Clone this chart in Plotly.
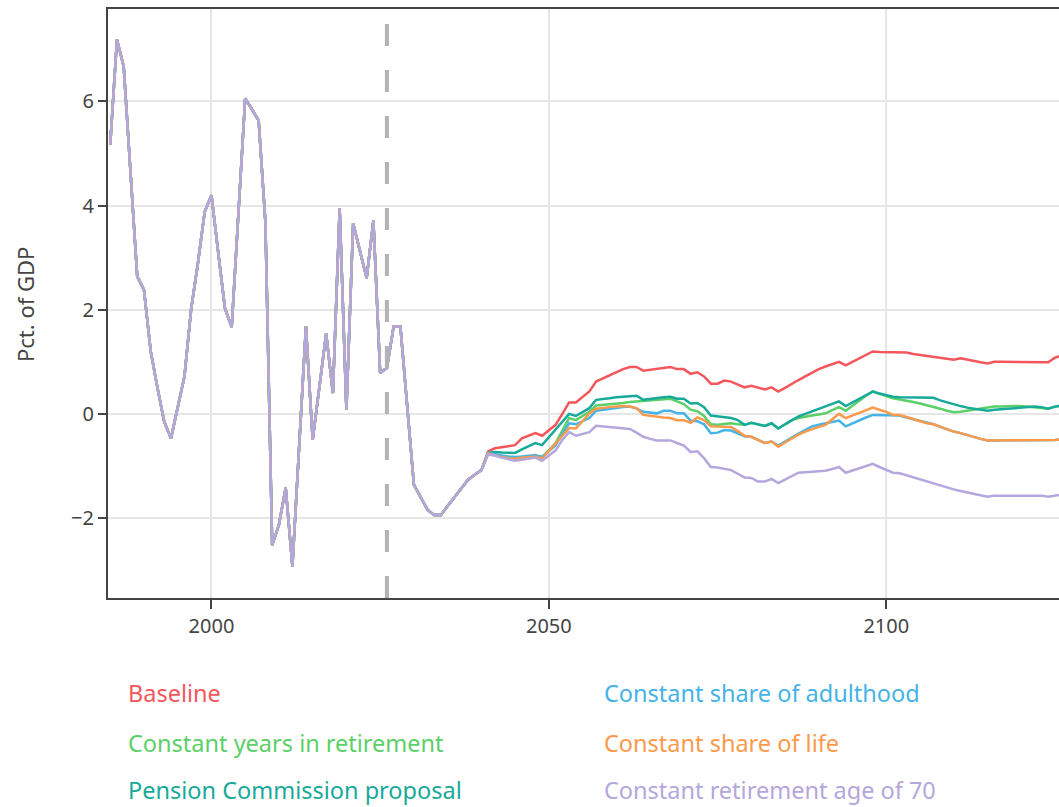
import plotly.graph_objects as go

# ---------------- data ----------------
hist_years_start = 1985
historical = [
    5.17, 7.19, 6.67, 4.65, 2.64, 2.38, 1.20, 0.50, -0.15, -0.47,   # 1985-1994
    0.12, 0.72, 2.02, 2.90, 3.88, 4.20, 3.10, 2.03, 1.66, 3.86,     # 1995-2004
    6.06, 5.85, 5.63, 3.67, -2.52, -2.13, -1.42, -2.93, -0.62, 1.68, # 2005-2014
    -0.50, 0.52, 1.54, 0.40, 3.95, 0.08, 3.66, 3.13, 2.61, 3.71,    # 2015-2024
    0.79, 0.88, 1.68, 1.68, 0.15, -1.36, -1.60, -1.84, -1.94, -1.94, # 2025-2034
    -1.77, -1.60, -1.43, -1.27, -1.17, -1.08,                        # 2035-2040
]

baseline = [
    -0.72, -0.66, -0.64, -0.62, -0.60, -0.47, -0.42, -0.37, -0.42, -0.31,
    -0.21, 0.00, 0.22, 0.22, 0.32, 0.43, 0.62, 0.68, 0.74, 0.80,
    0.86, 0.90, 0.90, 0.83, 0.85, 0.87, 0.89, 0.90, 0.86, 0.86,
    0.77, 0.80, 0.72, 0.58, 0.58, 0.64, 0.62, 0.56, 0.51, 0.54,
    0.50, 0.47, 0.51, 0.43, 0.50, 0.58, 0.65, 0.72, 0.79, 0.86,
    0.91, 0.96, 1.00, 0.93, 1.00, 1.07, 1.13, 1.20, 1.19, 1.19,
    1.18, 1.18, 1.18, 1.15, 1.13, 1.11, 1.09, 1.07, 1.05, 1.04,
    1.07, 1.04, 1.01, 0.99, 0.97, 1.00, 1.00, 1.00, 0.99, 0.99,
    0.99, 0.99, 0.99, 0.99, 1.08, 1.12,
]

const_years_retirement = [
    -0.75, -0.78, -0.81, -0.84, -0.85, -0.84, -0.82, -0.81, -0.82, -0.70,
    -0.56, -0.32, -0.08, -0.12, -0.04, 0.04, 0.16, 0.17, 0.19, 0.20,
    0.21, 0.23, 0.24, 0.26, 0.27, 0.28, 0.29, 0.29, 0.24, 0.19,
    0.08, 0.05, -0.04, -0.20, -0.21, -0.19, -0.18, -0.20, -0.21, -0.17,
    -0.20, -0.23, -0.18, -0.28, -0.20, -0.12, -0.08, -0.05, -0.03, -0.01,
    0.01, 0.07, 0.13, 0.06, 0.16, 0.26, 0.35, 0.43, 0.38, 0.34,
    0.30, 0.28, 0.26, 0.23, 0.20, 0.17, 0.14, 0.10, 0.06, 0.03,
    0.04, 0.06, 0.08, 0.11, 0.13, 0.14, 0.14, 0.15, 0.15, 0.15,
    0.14, 0.13, 0.12, 0.10, 0.14, 0.16,
]

pension_commission = [
    -0.75, -0.73, -0.74, -0.75, -0.75, -0.68, -0.62, -0.56, -0.60, -0.45,
    -0.31, -0.15, 0.00, -0.04, 0.04, 0.11, 0.27, 0.28, 0.30, 0.32,
    0.33, 0.35, 0.35, 0.27, 0.29, 0.31, 0.32, 0.33, 0.29, 0.29,
    0.20, 0.21, 0.13, -0.03, -0.05, -0.06, -0.08, -0.12, -0.21, -0.17,
    -0.20, -0.23, -0.18, -0.28, -0.20, -0.12, -0.05, 0.00, 0.05, 0.10,
    0.15, 0.20, 0.24, 0.15, 0.22, 0.29, 0.36, 0.43, 0.39, 0.36,
    0.33, 0.32, 0.32, 0.32, 0.32, 0.31, 0.31, 0.26, 0.22, 0.18,
    0.15, 0.12, 0.10, 0.08, 0.06, 0.08, 0.09, 0.10, 0.11, 0.12,
    0.13, 0.14, 0.13, 0.10, 0.14, 0.16,
]

const_share_adulthood = [
    -0.75, -0.78, -0.80, -0.82, -0.83, -0.82, -0.80, -0.79, -0.83, -0.72,
    -0.60, -0.39, -0.18, -0.20, -0.14, -0.08, 0.06, 0.08, 0.10, 0.11,
    0.13, 0.14, 0.10, 0.04, 0.02, 0.01, 0.06, 0.06, 0.01, 0.01,
    -0.13, -0.14, -0.20, -0.37, -0.36, -0.31, -0.32, -0.37, -0.43, -0.44,
    -0.50, -0.56, -0.53, -0.61, -0.53, -0.45, -0.38, -0.31, -0.24, -0.21,
    -0.18, -0.15, -0.13, -0.24, -0.18, -0.12, -0.07, -0.02, -0.02, -0.02,
    -0.02, -0.03, -0.07, -0.10, -0.14, -0.17, -0.20, -0.25, -0.30, -0.34,
    -0.37, -0.41, -0.44, -0.48, -0.51, -0.51, -0.51, -0.51, -0.51, -0.51,
    -0.51, -0.51, -0.51, -0.51, -0.50, -0.49,
]

const_share_life = [
    -0.76, -0.80, -0.83, -0.85, -0.86, -0.84, -0.83, -0.82, -0.86, -0.72,
    -0.58, -0.42, -0.27, -0.28, -0.14, 0.01, 0.10, 0.12, 0.13, 0.14,
    0.15, 0.14, 0.11, -0.02, -0.04, -0.06, -0.07, -0.08, -0.12, -0.12,
    -0.17, -0.07, -0.12, -0.24, -0.24, -0.24, -0.25, -0.33, -0.42, -0.44,
    -0.50, -0.56, -0.53, -0.63, -0.55, -0.47, -0.40, -0.34, -0.29, -0.25,
    -0.21, -0.10, 0.00, -0.08, -0.03, 0.03, 0.08, 0.12, 0.08, 0.04,
    -0.02, -0.02, -0.06, -0.10, -0.14, -0.18, -0.20, -0.25, -0.30, -0.34,
    -0.37, -0.41, -0.44, -0.48, -0.51, -0.51, -0.51, -0.51, -0.51, -0.51,
    -0.51, -0.51, -0.51, -0.51, -0.50, -0.49,
]

const_age_70 = [
    -0.78, -0.80, -0.84, -0.87, -0.90, -0.88, -0.86, -0.84, -0.90, -0.80,
    -0.70, -0.50, -0.35, -0.42, -0.39, -0.35, -0.23, -0.24, -0.25, -0.26,
    -0.27, -0.29, -0.36, -0.44, -0.48, -0.51, -0.51, -0.51, -0.56, -0.61,
    -0.73, -0.72, -0.85, -1.02, -1.03, -1.05, -1.08, -1.15, -1.22, -1.23,
    -1.30, -1.30, -1.25, -1.33, -1.26, -1.19, -1.13, -1.12, -1.11, -1.10,
    -1.09, -1.06, -1.02, -1.13, -1.09, -1.04, -1.00, -0.96, -1.02, -1.08,
    -1.13, -1.14, -1.18, -1.22, -1.26, -1.30, -1.34, -1.38, -1.42, -1.45,
    -1.48, -1.51, -1.54, -1.57, -1.59, -1.57, -1.57, -1.57, -1.57, -1.57,
    -1.57, -1.57, -1.57, -1.59, -1.57, -1.55,
]

series_names = [
    "Baseline",
    "Constant years in retirement",
    "Pension Commission proposal",
    "Constant share of adulthood",
    "Constant share of life",
    "Constant retirement age of 70",
]
series_proj = [baseline, const_years_retirement, pension_commission,
               const_share_adulthood, const_share_life, const_age_70]
colors = ["#f4575b", "#5bd068", "#17aa9a", "#45b3e6", "#fb9a4c", "#b4a7dd"]

projection_line_year = 2026
x_ticks = [2000, 2050, 2100]
y_ticks = [-2, 0, 2, 4, 6]

# ---------------- figure ----------------
FONT = "Noto Sans"
fig = go.Figure()

for name, proj, col in zip(series_names, series_proj, colors):
    y = historical + proj
    x = list(range(hist_years_start, hist_years_start + len(y)))
    fig.add_trace(go.Scatter(x=x, y=y, mode="lines", name=name,
                             line=dict(color=col, width=2.5),
                             showlegend=False))

fig.add_shape(type="line", xref="x", yref="paper",
              x0=projection_line_year, x1=projection_line_year, y0=0, y1=1,
              line=dict(color="#b3b3b3", width=4, dash="22px,24px"),
              layer="above")

FIG_W, FIG_H = 1059, 807
L_left, L_right = 108, 1059   # plot area in page pixels
P_top, P_bottom = 9, 598

def px_x(p):
    return (p - L_left) / (L_right - L_left)

def px_y(p):
    return (P_bottom - p) / (P_bottom - P_top)

legend_pos = [(126, 693), (126, 743), (126, 790), (602, 693), (602, 743), (602, 790)]
for name, col, (lx, ly) in zip(series_names, colors, legend_pos):
    fig.add_annotation(x=px_x(lx), y=px_y(ly), xref="paper", yref="paper",
                       text=name, showarrow=False, xanchor="left", yanchor="middle",
                       font=dict(family=FONT, size=23.5, color=col))

fig.add_annotation(x=px_x(25), y=px_y(305), xref="paper", yref="paper",
                   text="Pct. of GDP", showarrow=False, textangle=-90,
                   xanchor="center", yanchor="middle",
                   font=dict(family=FONT, size=22, color="#444444"))

fig.update_layout(
    width=FIG_W, height=FIG_H,
    margin=dict(l=L_left, r=FIG_W - L_right, t=P_top, b=FIG_H - P_bottom),
    paper_bgcolor="white", plot_bgcolor="white",
    font=dict(family=FONT, size=20, color="#444444"),
    showlegend=False,
)
fig.update_xaxes(
    range=[1984.67, 2125.6], tickvals=x_ticks,
    showgrid=True, gridcolor="#e6e6e6", gridwidth=2,
    showline=True, linecolor="#444444", linewidth=2, mirror=True,
    ticks="outside", ticklen=9, tickwidth=1.5, tickcolor="#444444",
    zeroline=False, tickfont=dict(size=20, color="#444444"),
)
fig.update_yaxes(
    range=[-3.536, 7.776], tickvals=y_ticks,
    showgrid=True, gridcolor="#e6e6e6", gridwidth=2,
    showline=True, linecolor="#444444", linewidth=2, mirror=False,
    ticks="outside", ticklen=8, tickwidth=1.5, tickcolor="#444444",
    zeroline=False, tickfont=dict(size=20, color="#444444"),
)

fig.write_html(
    "out.html",
    config={"displayModeBar": False},
    post_script="document.body.style.margin='0px';"
                "document.body.style.overflow='hidden';"
                "document.documentElement.style.overflow='hidden';",
)
